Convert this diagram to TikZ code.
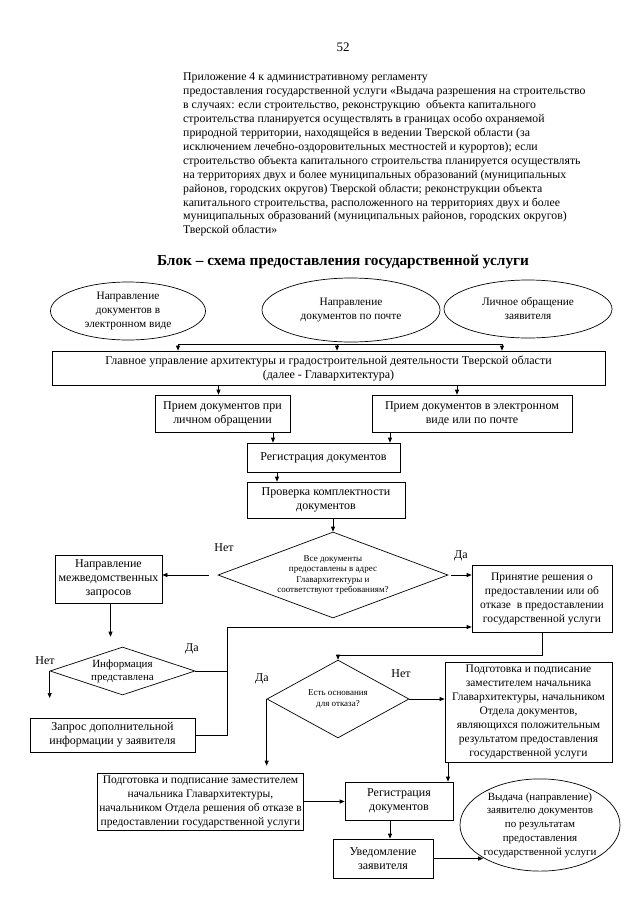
\documentclass[tikz,border=0pt]{standalone}
\usepackage{fontspec}
\setmainfont{Liberation Serif}
\usetikzlibrary{arrows.meta,shapes.geometric,calc}
\begin{document}
\begin{tikzpicture}[x=1pt,y=-1pt,
  txt/.style={font=\fontsize{12}{14}\selectfont},
  box/.style={draw, line width=0.7pt, align=center, inner sep=2pt, txt},
  ell/.style={ellipse, draw, line width=0.7pt, align=center, inner sep=0pt, font=\fontsize{11.3}{14}\selectfont},
  dia/.style={diamond, draw, line width=0.7pt, align=center, inner sep=0pt},
  arr/.style={-{Triangle[length=5pt,width=4pt]}, line width=0.7pt},
  ln/.style={line width=0.7pt},
  lbl/.style={txt, inner sep=0pt}]
\useasboundingbox (0,0) rectangle (640,905);
\fill[white] (0,0) rectangle (640,905);

\node[lbl, font=\fontsize{13}{15}\selectfont] (pg) at (343,47) {52};
\node[font=\fontsize{11.8}{13.9}\selectfont, align=left, anchor=north west, inner sep=0pt] (hdr) at (183,73) {Приложение 4 к административному регламенту\\
предоставления государственной услуги «Выдача разрешения на строительство\\
в случаях: если строительство, реконструкцию\ \ объекта капитального\\
строительства планируется осуществлять в границах особо охраняемой\\
природной территории, находящейся в ведении Тверской области (за\\
исключением лечебно-оздоровительных местностей и курортов); если\\
строительство объекта капитального строительства планируется осуществлять\\
на территориях двух и более муниципальных образований (муниципальных\\
районов, городских округов) Тверской области; реконструкции объекта\\
капитального строительства, расположенного на территориях двух и более\\
муниципальных образований (муниципальных районов, городских округов)\\
Тверской области»};
\node[font=\bfseries\fontsize{15.3}{17}\selectfont] (ttl) at (343,262) {Блок – схема предоставления государственной услуги};

% top ellipses
\node[ell, minimum width=155pt, minimum height=58pt] (e1) at (128,311) {Направление\\документов в\\электронном виде};
\node[ell, minimum width=178pt, minimum height=64pt] (e2) at (351,310) {Направление\\документов по почте};
\node[ell, minimum width=168pt, minimum height=58pt] (e3) at (528,309) {Личное обращение\\заявителя};

\node[box, minimum width=553pt, minimum height=34pt] (main) at (328.5,368) {Главное управление архитектуры и градостроительной деятельности Тверской области\\(далее - Главархитектура)};

\coordinate (b1) at (178,344);
\coordinate (b2) at (337,344);
\coordinate (b3) at (502,344);
\draw[ln] (b1) -- (b3);
\draw[arr] (b1) -- (b1 |- main.north);
\draw[arr] (b2) -- (b2 |- main.north);
\draw[arr] (b3) -- (b3 |- main.north);

\node[box, minimum width=135pt, minimum height=37pt] (p1) at (222.5,413.5) {Прием документов при\\личном обращении};
\node[box, minimum width=200pt, minimum height=37pt] (p2) at (472,413.5) {Прием документов в электронном\\виде или по почте};
\coordinate (m1) at ($(p1.north)+(-4,0)$);
\coordinate (m2) at ($(p2.north)+(-15,0)$);
\draw[arr] (m1 |- main.south) -- (m1);
\draw[arr] (m2 |- main.south) -- (m2);

\node[box, minimum width=153pt, minimum height=29pt] (reg) at (323.5,457.5) {Регистрация документов};
\node[box, minimum width=158pt, minimum height=36pt] (chk) at (326,500) {Проверка комплектности\\документов};
\coordinate (r1) at ($(reg.north)+(-50.5,0)$);
\coordinate (r2) at ($(reg.north)+(66.5,0)$);
\draw[arr] (r1 |- p1.south) -- (r1);
\draw[arr] (r2 |- p2.south) -- (r2);
\coordinate (r3) at ($(chk.north)+(-49,0)$);
\draw[arr] (r3 |- reg.south) -- (r3);

% decision 1
\node[dia, aspect=2.7, minimum width=230pt, minimum height=86pt, font=\fontsize{9}{10.5}\selectfont] (d1) at (333,575) {Все документы\\предоставлены в адрес\\Главархитектуры и\\соответствуют требованиям?};
\draw[arr] (d1.north |- chk.south) -- (d1.north);
\node[box, minimum width=107pt, minimum height=48pt] (n1) at (108.5,579) {Направление\\межведомственных\\запросов};
\node[box, minimum width=140pt, minimum height=67pt, font=\fontsize{11.5}{14}\selectfont] (rs) at (542,598.5) {Принятие решения о\\предоставлении или об\\отказе\ \ в предоставлении\\государственной услуги};
\draw[arr, shorten <=9pt] (d1.west) -- (d1.west -| n1.east);
\draw[arr, shorten <=3pt] (d1.east) -- (d1.east -| rs.west);
\node[lbl] (l1) at (224,548) {Нет};
\node[lbl] (l2) at (461,556) {Да};

% decision 2
\node[dia, aspect=3, minimum width=145pt, minimum height=48pt, font=\fontsize{11}{13}\selectfont] (d2) at (122.5,671) {Информация\\представлена};
\coordinate (n1a) at ($(n1.south)+(2,0)$);
\draw[arr, shorten >=10pt] (n1a) -- (n1a |- d2.north);
\node[box, minimum width=165pt, minimum height=34pt] (zq) at (112.5,735) {Запрос дополнительной\\информации у заявителя};
\coordinate (zfree) at ($(d2.west)+(0,27)$);
\draw[arr] (d2.west) -- (zfree);
\coordinate (jt) at (227,627);
\draw[ln] (d2.east) -- (d2.east -| jt);
\draw[arr] (zq.east) -| (jt) -- (jt -| rs.west);
\node[lbl] (l3) at (45,661) {Нет};
\node[lbl] (l4) at (192,649) {Да};

% decision 3
\node[dia, minimum width=142pt, minimum height=58pt, font=\fontsize{9}{10.5}\selectfont] (d3) at (338,699) {Есть основания\\для отказа?};
\coordinate (k1) at ($(rs.south)+(0,23)$);
\draw[arr] (rs.south) -- (k1) -| (d3.north);
\node[box, minimum width=167pt, minimum height=100pt, font=\fontsize{11.5}{14}\selectfont] (s1) at (528.5,712) {Подготовка и подписание\\заместителем начальника\\Главархитектуры, начальником\\Отдела документов,\\являющихся положительным\\результатом предоставления\\государственной услуги};
\draw[arr] (d3.east) -- (d3.east -| s1.west);
\node[box, minimum width=205pt, minimum height=57pt, font=\fontsize{11.5}{14}\selectfont] (fr) at (200.5,801.5) {Подготовка и подписание заместителем\\начальника Главархитектуры,\\начальником Отдела решения об отказе в\\предоставлении государственной услуги};
\draw[arr, shorten >=7pt] (d3.west) -- (d3.west |- fr.north);
\node[lbl] (l5) at (262,679) {Да};
\node[lbl] (l6) at (401,674) {Нет};

% bottom
\node[box, minimum width=108pt, minimum height=38pt] (reg2) at (399,801) {Регистрация\\документов};
\coordinate (s1b) at ($(reg2.north)+(49,0)$);
\draw[arr] (s1b |- s1.south) -- (s1b);
\draw[arr] (fr.east) -- (fr.east -| reg2.west);
\node[box, minimum width=100pt, minimum height=39pt] (uv) at (383,858.5) {Уведомление\\заявителя};
\coordinate (r2b) at ($(reg2.south)+(-9,0)$);
\draw[arr] (r2b) -- (r2b |- uv.north);
\node[ell, minimum width=160pt, minimum height=92pt, font=\fontsize{11}{13.8}\selectfont] (e4) at (540,825) {Выдача (направление)\\заявителю документов\\по результатам\\предоставления\\государственной услуги};
\draw[arr] (uv.east) -- (uv.east -| e4.210);
\end{tikzpicture}
\end{document}
